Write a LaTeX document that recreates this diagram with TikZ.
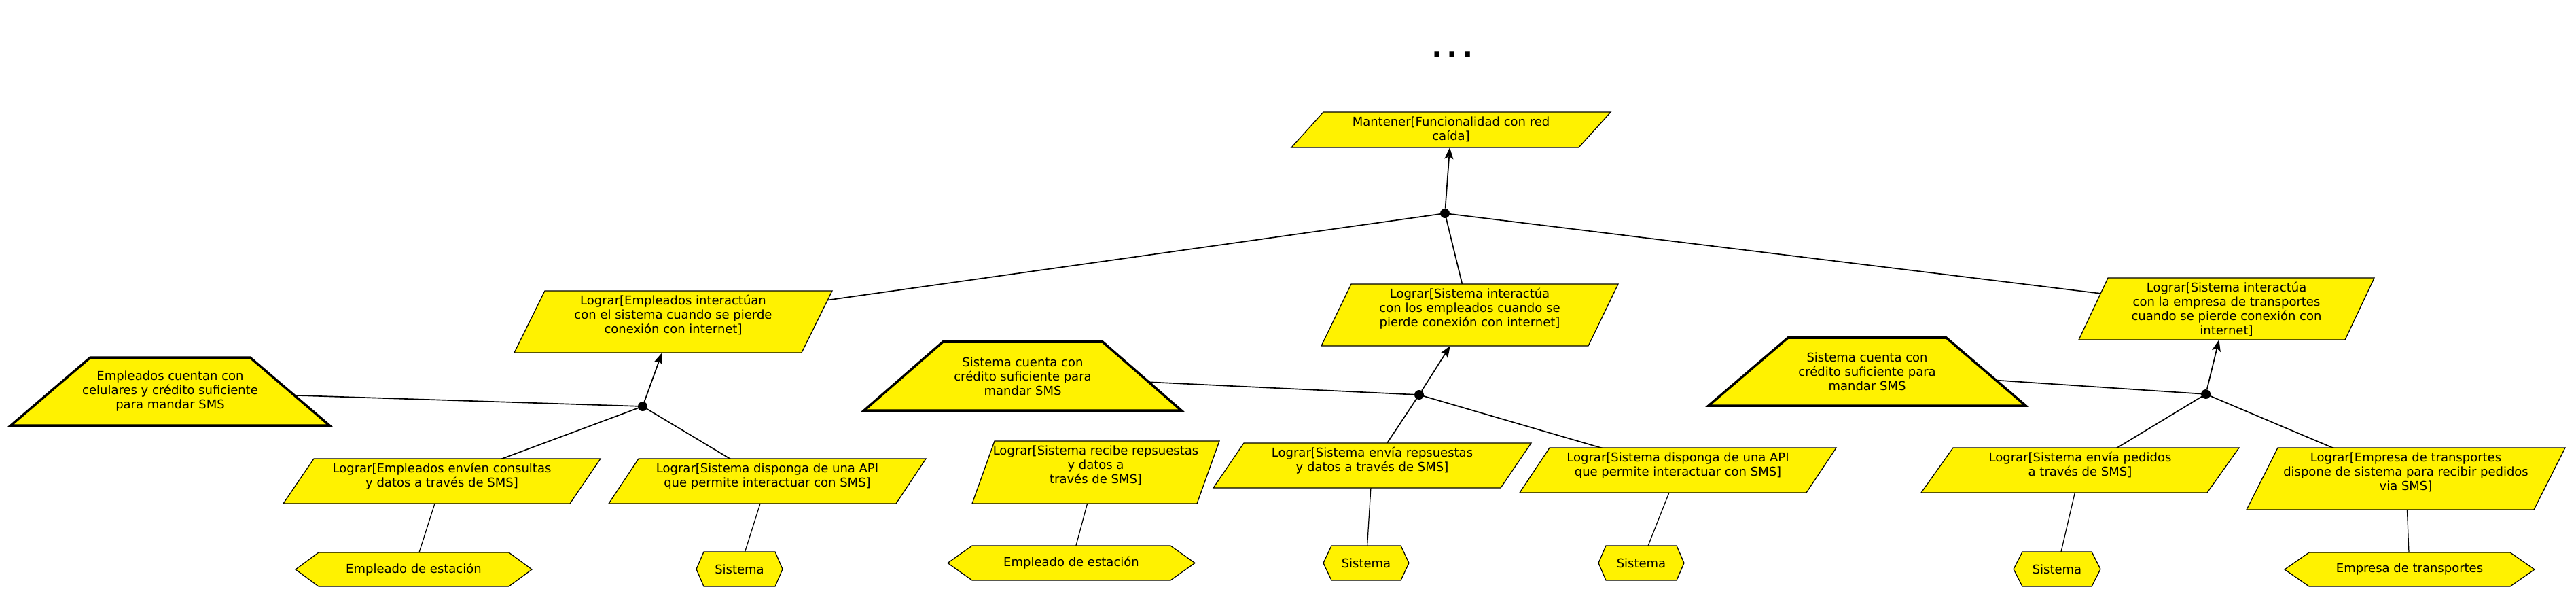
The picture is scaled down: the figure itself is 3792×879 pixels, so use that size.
\documentclass[tikz,border=0pt]{standalone}
\usepackage{fontspec}
\setmainfont{DejaVu Sans}
\usetikzlibrary{arrows.meta}
\pgfdeclarelayer{background}
\pgfdeclarelayer{shp}
\pgfsetlayers{background,shp,main}
\newlength\pxu
\setlength\pxu{0.02cm}
\newcommand\lbl{\fontsize{10.24pt}{11.95pt}\selectfont}

\tikzset{
  goalshape/.style={fill=yellow, draw=black, line width=0.7pt, line join=miter},
  softshape/.style={fill=yellow, draw=black, line width=2pt, line join=miter},
  actorshape/.style={fill=yellow, draw=black, line width=0.7pt},
  lab/.style={anchor=north west, inner sep=0pt, outer sep=0pt, font=\lbl},
  junc/.style={circle, fill=black, inner sep=0pt, minimum size=0.28cm},
  link/.style={draw=black, line width=0.95pt},
  alink/.style={draw=black, line width=0.7pt},
  arr/.style={draw=black, line width=0.95pt, -{Stealth[length=0.34cm, width=0.26cm, inset=0.08cm]}},
}

% parallelogram goal: name, x, y, w, h, slant, text
\newcommand\goalbox[7]{%
  \node[lab] (#1) at (#2,#3) {\parbox[c][#5\pxu][t]{#4\pxu}{\centering\rule{0pt}{20.5\pxu}#7\par}};
  \begin{pgfonlayer}{shp}
    \path[goalshape] ([xshift=#6*0.02cm]#1.north west) -- (#1.north east)
      -- ([xshift=-#6*0.02cm]#1.south east) -- (#1.south west) -- cycle;
  \end{pgfonlayer}}

% trapezoid softgoal/assumption
\newcommand\softgoal[7]{%
  \node[lab, minimum width=#4*0.02cm, minimum height=#5*0.02cm, align=center] (#1) at (#2,#3) {#7};
  \begin{pgfonlayer}{shp}
    \path[softshape] ([xshift=#6*0.02cm]#1.north west) -- ([xshift=-#6*0.02cm]#1.north east)
      -- (#1.south east) -- (#1.south west) -- cycle;
  \end{pgfonlayer}}

% hexagon agent
\newcommand\agent[7]{%
  \node[lab, minimum width=#4*0.02cm, minimum height=#5*0.02cm] (#1) at (#2,#3) {#7};
  \begin{pgfonlayer}{shp}
    \path[actorshape] ([xshift=#6*0.02cm]#1.north west) -- ([xshift=-#6*0.02cm]#1.north east)
      -- (#1.east) -- ([xshift=-#6*0.02cm]#1.south east) -- ([xshift=#6*0.02cm]#1.south west)
      -- (#1.west) -- cycle;
  \end{pgfonlayer}}

\begin{document}
\begin{tikzpicture}[x=0.02cm, y=-0.02cm]
\useasboundingbox (0,0) rectangle (3792,879);

\node[font=\fontsize{40pt}{40pt}\selectfont, inner sep=0pt] (dots) at (2138,80) {...};

\goalbox{M}{1901}{165}{470}{52}{47}{Mantener[Funcionalidad con red\\caída]}
\goalbox{A}{757}{428}{468}{91}{45}{Lograr[Empleados interactúan\\con el sistema cuando se pierde\\conexión con internet]}
\goalbox{B}{1945}{418}{437}{91}{44}{Lograr[Sistema interactúa\\con los empleados cuando se\\pierde conexión con internet]}
\goalbox{C}{3060}{409}{435}{91}{43}{Lograr[Sistema interactúa\\con la empresa de transportes\\cuando se pierde conexión con\\internet]}
\goalbox{D}{417}{675}{467}{66}{45}{Lograr[Empleados envíen consultas\\y datos a través de SMS]}
\goalbox{E}{896}{675}{467}{66}{44}{Lograr[Sistema disponga de una API\\que permite interactuar con SMS]}
\goalbox{F}{1431}{649}{364}{92}{33}{Lograr[Sistema recibe repsuestas\\y datos a\\través de SMS]}
\goalbox{G}{1786}{652}{468}{66}{45}{Lograr[Sistema envía repsuestas\\y datos a través de SMS]}
\goalbox{H}{2237}{659}{466}{66}{44}{Lograr[Sistema disponga de una API\\que permite interactuar con SMS]}
\goalbox{I}{2828}{659}{468}{66}{47}{Lograr[Sistema envía pedidos\\a través de SMS]}
\goalbox{J}{3307}{659}{469}{91}{46}{Lograr[Empresa de transportes\\dispone de sistema para recibir pedidos\\via SMS]}

\softgoal{T1}{16}{526}{469}{100}{117}{Empleados cuentan con\\celulares y crédito suficiente\\para mandar SMS}
\softgoal{T2}{1272}{503}{467}{101}{116}{Sistema cuenta con\\crédito suficiente para\\mandar SMS}
\softgoal{T3}{2515}{497}{467}{100}{117}{Sistema cuenta con\\crédito suficiente para\\mandar SMS}

\agent{X1}{435}{813}{348}{50}{34}{Empleado de estación}
\agent{X2}{1025}{812}{127}{51}{11}{Sistema}
\agent{X3}{1395}{803}{364}{51}{36}{Empleado de estación}
\agent{X4}{1948}{803}{126}{51}{12}{Sistema}
\agent{X5}{2353}{803}{126}{51}{11}{Sistema}
\agent{X6}{2964}{812}{128}{51}{13}{Sistema}
\agent{X7}{3363}{813}{368}{50}{36}{Empresa de transportes}

\node[junc] (j0) at (2127,314) {};
\node[junc] (j1) at (946,598) {};
\node[junc] (j2) at (2089,581) {};
\node[junc] (j3) at (3247,580) {};

\begin{pgfonlayer}{background}
  \draw[link] (j0.center) -- (A.center);
  \draw[link] (j0.center) -- (B.center);
  \draw[link] (j0.center) -- (C.center);
  \draw[link] (T1.center) -- (j1.center);
  \draw[link] (D.center) -- (j1.center);
  \draw[link] (E.center) -- (j1.center);
  \draw[link] (T2.center) -- (j2.center);
  \draw[link] (G.center) -- (j2.center);
  \draw[link] (H.center) -- (j2.center);
  \draw[link] (T3.center) -- (j3.center);
  \draw[link] (I.center) -- (j3.center);
  \draw[link] (J.center) -- (j3.center);
  \draw[alink] (D.center) -- (X1.center);
  \draw[alink] (E.center) -- (X2.center);
  \draw[alink] (F.center) -- (X3.center);
  \draw[alink] (G.center) -- (X4.center);
  \draw[alink] (H.center) -- (X5.center);
  \draw[alink] (I.center) -- (X6.center);
  \draw[alink] (J.center) -- (X7.center);
\end{pgfonlayer}

\draw[arr] (j0) -- (M);
\draw[arr] (j1) -- (A);
\draw[arr] (j2) -- (B);
\draw[arr] (j3) -- (C);
\end{tikzpicture}
\end{document}
